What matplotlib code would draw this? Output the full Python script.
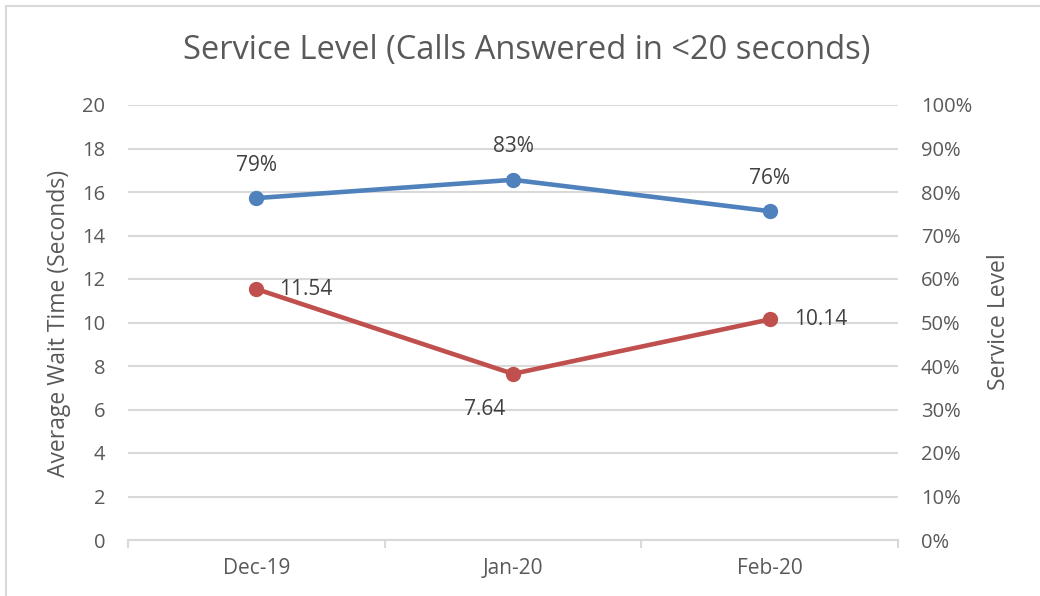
import matplotlib
matplotlib.use("Agg")
import matplotlib.pyplot as plt
from matplotlib.patches import Rectangle
from matplotlib.ticker import FuncFormatter, MultipleLocator

months = ["Dec-19", "Jan-20", "Feb-20"]
service_level = [0.786, 0.828, 0.756]
service_labels = ["79%", "83%", "76%"]
wait_time = [11.54, 7.64, 10.14]
wait_labels = ["11.54", "7.64", "10.14"]

plt.rcParams['font.family'] = ['Open Sans', 'DejaVu Sans']
txt = '#595959'
grid_c = '#d9d9d9'
blue = '#4F81BD'
red = '#C0504D'

W, H = 1040, 596
fig = plt.figure(figsize=(W/100, H/100), dpi=100)
fig.patches.append(Rectangle((6/W, -0.1), 1.2, (H-6)/H + 0.1, transform=fig.transFigure,
                             fill=False, edgecolor='#d9d9d9', linewidth=1.5))
ax = fig.add_axes([128/W, 1-540/H, 770/W, 435/H])
ax2 = ax.twinx()

x = list(range(len(months)))
ax.set_xlim(-0.5, len(months) - 0.5)
ax.set_ylim(0, 20)
ax2.set_ylim(0, 1)
ax.yaxis.set_major_locator(MultipleLocator(2))
ax2.yaxis.set_major_locator(MultipleLocator(0.1))
ax2.yaxis.set_major_formatter(FuncFormatter(lambda v, p: f"{v*100:.0f}%"))

ax.grid(axis='y', color=grid_c, linewidth=1.5)
ax.set_axisbelow(True)
for a in (ax, ax2):
    for s in ('left', 'right', 'top', 'bottom'):
        a.spines[s].set_visible(False)
    a.tick_params(axis='y', length=0, labelsize=14.5, labelcolor=txt, pad=16.5)
ax.spines['bottom'].set_visible(True)
ax.spines['bottom'].set_color(grid_c)
ax.spines['bottom'].set_linewidth(1.5)
ax.set_xticks(x)
ax.set_xticklabels(months)
ax.tick_params(axis='x', length=0, labelsize=15, labelcolor=txt, pad=13)
ax.set_xticks([-0.5, 0.5, 1.5, 2.5], minor=True)
ax.tick_params(axis='x', which='minor', length=6, color=grid_c, width=1.5, direction='out')

ax.plot(x, wait_time, color=red, linewidth=3.3, marker='o', markersize=10, zorder=3)
ax2.plot(x, service_level, color=blue, linewidth=3.3, marker='o', markersize=10, zorder=3)

px = 0.72
for xi, v, lab in zip(x, service_level, service_labels):
    ax2.annotate(lab, (xi, v), xytext=(0, 33*px), textcoords='offset points', ha='center', va='center',
                 fontsize=15, color='#404040')
offs = [(23, 0, 'left'), (-28, -36, 'center'), (24, 0, 'left')]
for xi, v, lab, (dx, dy, ha) in zip(x, wait_time, wait_labels, offs):
    ax.annotate(lab, (xi, v), xytext=(dx*px, dy*px), textcoords='offset points', ha=ha, va='center',
                fontsize=15, color='#404040')

fig.text(59/W, 1-323/H, "Average Wait Time (Seconds)", rotation=90, ha='center', va='center',
         fontsize=16.5, color=txt)
fig.text(999/W, 1-322/H, "Service Level", rotation=90, ha='center', va='center',
         fontsize=16.5, color=txt)
fig.text(526.5/W, 1-50/H, "Service Level (Calls Answered in <20 seconds)", ha='center', va='center',
         fontsize=23.5, color=txt)

fig.savefig("out.png", dpi=100, facecolor='white')
